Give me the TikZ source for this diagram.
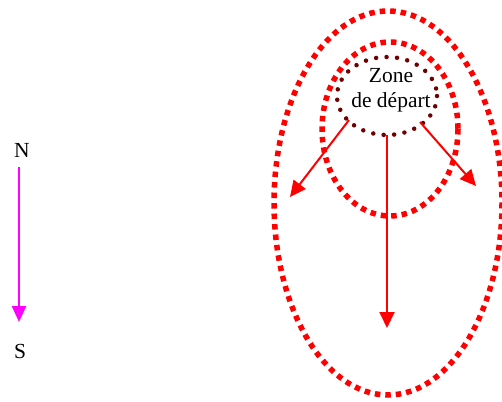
\documentclass[tikz,border=0pt]{standalone}
\usepackage{fontspec}
\setmainfont{Liberation Serif}
\usetikzlibrary{arrows.meta}
\definecolor{zonered}{RGB}{255,0,0}
\definecolor{darkdot}{RGB}{110,0,0}
\definecolor{compass}{RGB}{255,0,255}
\begin{document}
\begin{tikzpicture}[x=1pt,y=-1pt,
  zoneline/.style={draw=zonered,line width=5.5pt,dash pattern=on 5.5pt off 5pt},
  startline/.style={draw=darkdot,line width=4.5pt,line cap=round,dash pattern=on 0pt off 10.5pt},
  flowarrow/.style={draw=zonered,line width=2pt,-{Triangle[length=16pt,width=15pt]}},
  northarrow/.style={draw=compass,line width=2.5pt,-{Triangle[length=16pt,width=14pt]}},
  label/.style={font=\fontsize{21.5}{25}\selectfont,inner sep=0pt}]
\useasboundingbox (0,0) rectangle (502,401);
% zones
\draw[zoneline] (388,203) ellipse [x radius=114,y radius=192];
\draw[zoneline] (390,129) ellipse [x radius=68,y radius=87];
\draw[startline] (387,96) ellipse [x radius=50,y radius=39];
\node[label,align=center] (zone) at (391,90) {Zone\\de départ};
% arrow ends
\coordinate (s1) at (349,120);
\coordinate (e1) at (290,197);
\coordinate (s2) at (420,122);
\coordinate (e2) at (476,186);
\coordinate (s3) at (387,135);
\coordinate (e3) at (387,328);
\draw[flowarrow] (s1) -- (e1);
\draw[flowarrow] (s2) -- (e2);
\draw[flowarrow] (s3) -- (e3);
% compass
\node[label] (N) at (22,150) {N};
\node[label] (S) at (20,351) {S};
\coordinate (nstart) at (19,167);
\coordinate (nend) at (19,322);
\draw[northarrow] (nstart) -- (nend);
\end{tikzpicture}
\end{document}
